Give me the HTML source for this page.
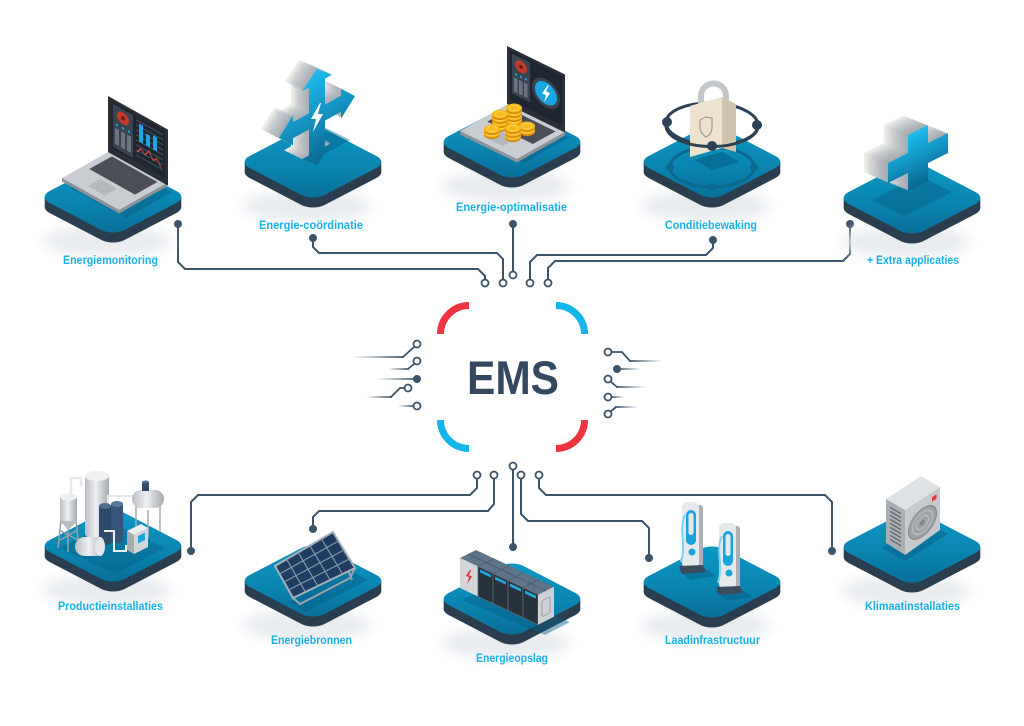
<!DOCTYPE html>
<html><head><meta charset="utf-8"><style>
html,body{margin:0;padding:0;background:#fff;}
svg{display:block;}
</style></head><body>
<svg width="1024" height="726" viewBox="0 0 1024 726" xmlns="http://www.w3.org/2000/svg">
<defs>
<filter id="bl" x="-50%" y="-50%" width="200%" height="200%"><feGaussianBlur stdDeviation="6"/></filter>
<linearGradient id="pg" x1="0" y1="0" x2="1" y2="1"><stop offset="0" stop-color="#0d99c5"/><stop offset="0.55" stop-color="#0a86b1"/><stop offset="1" stop-color="#076e96"/></linearGradient>
<linearGradient id="cyl" x1="0" y1="0" x2="1" y2="0"><stop offset="0" stop-color="#b9bec3"/><stop offset="0.45" stop-color="#eef0f1"/><stop offset="1" stop-color="#a3a9af"/></linearGradient>
<linearGradient id="blu" x1="0" y1="0" x2="0" y2="1"><stop offset="0" stop-color="#1dbcf0"/><stop offset="1" stop-color="#0a6890"/></linearGradient>
<linearGradient id="fl" x1="0" y1="0" x2="1" y2="0"><stop offset="0" stop-color="#3d5468" stop-opacity="0"/><stop offset="1" stop-color="#3d5468"/></linearGradient>
<linearGradient id="fr" x1="0" y1="0" x2="1" y2="0"><stop offset="0" stop-color="#3d5468"/><stop offset="1" stop-color="#3d5468" stop-opacity="0"/></linearGradient>
<g id="plat">
<ellipse cx="-6" cy="44" rx="64" ry="16" fill="#e8ecef" filter="url(#bl)"/>
<rect x="-53" y="-53" width="106" height="106" rx="16" transform="translate(0,10) scale(1,0.52) rotate(45)" fill="#2b3e50"/>
<rect x="-68.3" y="0" width="136.6" height="10" fill="#2b3e50"/>
<rect x="-53" y="-53" width="106" height="106" rx="16" transform="scale(1,0.52) rotate(45)" fill="url(#pg)"/>
</g>
<g id="coin"><ellipse cx="0" cy="1.6" rx="8" ry="4.5" fill="#d4870a"/><ellipse cx="0" cy="0" rx="8" ry="4.5" fill="#f8bb1c"/><ellipse cx="0" cy="0" rx="5" ry="2.7" fill="none" stroke="#fdd560" stroke-width="0.8"/></g>
<polygon id="arw" points="0,-48 15,-34 8,-34 8,-8 24,-8 24,-15 38,0 24,15 24,8 8,8 8,34 15,34 0,48 -15,34 -8,34 -8,8 -24,8 -24,15 -38,0 -24,-15 -24,-8 -8,-8 -8,-34 -15,-34"/>
<polygon id="pls" points="-10,-28 10,-28 10,-10 30,-10 30,10 10,10 10,28 -10,28 -10,10 -30,10 -30,-10 -10,-10"/>
</defs>

<!-- ===== connectors ===== -->
<g fill="none" stroke="#3d5468" stroke-width="2">
<path d="M178,224 V262 L185,269 H478 L485,276 V279.5"/>
<path d="M313,238 V247 L319,253 H497 L503,259 V279.5"/>
<path d="M513,224 V271.5"/>
<path d="M530,279.5 V262 L537,255 H706 L713,248 V240"/>
<path d="M548,279.5 V268 L555,261 H843 L850,254 V224"/>
<path d="M477,478.5 V488 L470,495 H198 L191,502 V551"/>
<path d="M494,478.5 V504 L488,511 H319 L313,517 V529"/>
<path d="M513,469.5 V547"/>
<path d="M521,478.5 V514 L528,521 H642 L649,528 V558"/>
<path d="M539,478.5 V488 L546,495 H825 L832,502 V551"/>
</g>
<g fill="#3d5468">
<circle cx="178" cy="224" r="4"/><circle cx="313" cy="238" r="4"/><circle cx="513" cy="224" r="4"/><circle cx="713" cy="240" r="4"/><circle cx="850" cy="224" r="4"/>
<circle cx="191" cy="551" r="4"/><circle cx="313" cy="529" r="4"/><circle cx="513" cy="547" r="4"/><circle cx="649" cy="558" r="4"/><circle cx="832" cy="551" r="4"/>
</g>
<g fill="#fff" stroke="#3d5468" stroke-width="1.8">
<circle cx="485" cy="283" r="3.5"/><circle cx="503" cy="283" r="3.5"/><circle cx="513" cy="275" r="3.5"/><circle cx="530" cy="283" r="3.5"/><circle cx="548" cy="283" r="3.5"/>
<circle cx="477" cy="475" r="3.5"/><circle cx="494" cy="475" r="3.5"/><circle cx="513" cy="466" r="3.5"/><circle cx="521" cy="475" r="3.5"/><circle cx="539" cy="475" r="3.5"/>
</g>

<!-- ===== EMS ===== -->
<g fill="none" stroke-width="7">
<path d="M440.5,334 A28.5,28.5 0 0 1 469,305.5" stroke="#ee3440"/>
<path d="M556,305.5 A28.5,28.5 0 0 1 584.5,334" stroke="#13b5ea"/>
<path d="M440.5,420 A28.5,28.5 0 0 0 469,448.5" stroke="#13b5ea"/>
<path d="M584.5,420 A28.5,28.5 0 0 1 556,448.5" stroke="#ee3440"/>
</g>
<text x="467" y="394" font-family="Liberation Sans, Arial, sans-serif" font-weight="bold" font-size="47" fill="#34495f" textLength="92" lengthAdjust="spacingAndGlyphs">EMS</text>

<rect x="352" y="356.1" width="52" height="1.8" fill="url(#fl)"/>
<rect x="388" y="368.1" width="21" height="1.8" fill="url(#fl)"/>
<rect x="376" y="378.1" width="41" height="1.8" fill="url(#fl)"/>
<rect x="366" y="396.1" width="26" height="1.8" fill="url(#fl)"/>
<rect x="398" y="405.1" width="16" height="1.8" fill="url(#fl)"/>
<g fill="none" stroke="#3d5468" stroke-width="1.8">
<path d="M414.5,346.5 L403,357"/>
<path d="M414.5,363.5 L408,369"/>
<path d="M404.5,388 H400 L391,397"/>
</g>
<circle cx="417" cy="379" r="4" fill="#3d5468"/>
<g fill="#fff" stroke="#3d5468" stroke-width="1.8">
<circle cx="417" cy="344" r="3.5"/><circle cx="417" cy="361" r="3.5"/><circle cx="408" cy="388" r="3.5"/><circle cx="417" cy="406" r="3.5"/>
</g>
<rect x="629" y="360.1" width="34" height="1.8" fill="url(#fr)"/>
<rect x="617" y="368.1" width="24" height="1.8" fill="url(#fr)"/>
<rect x="616" y="386.1" width="30" height="1.8" fill="url(#fr)"/>
<rect x="611" y="396.1" width="13" height="1.8" fill="url(#fr)"/>
<rect x="615" y="406.1" width="23" height="1.8" fill="url(#fr)"/>
<g fill="none" stroke="#3d5468" stroke-width="1.8">
<path d="M611.5,352 H622 L630,361"/>
<path d="M610.5,381.5 L617,387"/>
<path d="M610.5,411.5 L616,407"/>
</g>
<circle cx="617" cy="369" r="4" fill="#3d5468"/>
<g fill="#fff" stroke="#3d5468" stroke-width="1.8">
<circle cx="608" cy="352" r="3.5"/><circle cx="608" cy="379" r="3.5"/><circle cx="608" cy="397" r="3.5"/><circle cx="608" cy="414" r="3.5"/>
</g>

<!-- ===== platforms ===== -->
<use href="#plat" x="113" y="197"/>
<use href="#plat" x="313" y="162"/>
<use href="#plat" x="512" y="142"/>
<use href="#plat" x="712" y="162"/>
<use href="#plat" x="912" y="198"/>
<use href="#plat" x="113" y="546"/>
<use href="#plat" x="313" y="581"/>
<use href="#plat" x="512" y="599"/>
<use href="#plat" x="712" y="582"/>
<use href="#plat" x="912" y="547"/>

<!-- ===== P1 laptop ===== -->
<polygon points="70,188 116,162 172,192 126,218" fill="#055f85" opacity="0.5"/>
<polygon points="62,178 119,210 167,183 167,186.5 119,213.5 62,181.5" fill="#8d9298"/>
<polygon points="62,178 110,151 167,183 119,210" fill="#c9ccd0"/>
<polygon points="89.3,169 111.9,156.4 157.5,182 134.9,194.6" fill="#4a4f57"/>
<polygon points="87.8,186 100.2,178.9 117.2,188.5 104.8,195.6" fill="#b5b9bd"/>
<g transform="translate(108,96) skewY(29.3)">
<rect x="0" y="0" width="60" height="56" fill="#2a2e35"/>
<rect x="3" y="3" width="54" height="47" fill="#1d2631"/>
<rect x="5" y="5" width="20" height="43" fill="#3a4350"/>
<circle cx="15" cy="14" r="6" fill="#c0392b"/><circle cx="15" cy="14" r="2" fill="#6e1a14"/>
<circle cx="9" cy="24" r="1.2" fill="#1aa6e4"/><circle cx="15" cy="24" r="1.2" fill="#1aa6e4"/><circle cx="21" cy="24" r="1.2" fill="#1aa6e4"/>
<rect x="7" y="28" width="4" height="16" fill="#6b7480"/><rect x="13" y="28" width="4" height="16" fill="#6b7480"/><rect x="19" y="28" width="4" height="16" fill="#6b7480"/>
<g stroke="#5c6672" stroke-width="0.7"><line x1="28" y1="8" x2="55" y2="8"/><line x1="28" y1="13" x2="55" y2="13"/><line x1="28" y1="18" x2="55" y2="18"/><line x1="28" y1="23" x2="55" y2="23"/><line x1="28" y1="28" x2="55" y2="28"/><line x1="28" y1="33" x2="55" y2="33"/><line x1="28" y1="38" x2="55" y2="38"/><line x1="28" y1="43" x2="55" y2="43"/></g>
<rect x="31" y="10" width="4" height="18" fill="#1aa6e4"/><rect x="38" y="16" width="4" height="12" fill="#1aa6e4"/><rect x="45" y="14" width="4" height="14" fill="#1aa6e4"/>
<polyline points="29,40 33,34 37,38 41,32 45,39 49,35 53,42" fill="none" stroke="#e74c3c" stroke-width="1"/>
</g>

<!-- ===== P2 arrows ===== -->
<polygon points="286,150 326,128 350,140 310,162" fill="#055f85" opacity="0.45"/>
<use href="#arw" transform="matrix(1,-0.55,0,1,299,108)" fill="#efede7"/>
<use href="#arw" transform="matrix(1,-0.55,0,1,300.5,108.75)" fill="#e6e6e2"/>
<use href="#arw" transform="matrix(1,-0.55,0,1,302,109.5)" fill="#dcdddc"/>
<use href="#arw" transform="matrix(1,-0.55,0,1,303.5,110.25)" fill="#d3d5d6"/>
<use href="#arw" transform="matrix(1,-0.55,0,1,305,111)" fill="#cccfd1"/>
<use href="#arw" transform="matrix(1,-0.55,0,1,306.5,111.75)" fill="#c6cacd"/>
<use href="#arw" transform="matrix(1,-0.55,0,1,308,112.5)" fill="#c0c4c8"/>
<use href="#arw" transform="matrix(1,-0.55,0,1,309.5,113.25)" fill="#bbc0c4"/>
<use href="#arw" transform="matrix(1,-0.55,0,1,311,114)" fill="#b6bbc0"/>
<use href="#arw" transform="matrix(1,-0.55,0,1,312.5,114.75)" fill="#b1b7bc"/>
<use href="#arw" transform="matrix(1,-0.55,0,1,314,115.5)" fill="#adb3b8"/>
<use href="#arw" transform="matrix(1,-0.55,0,1,315.5,116.25)" fill="#a9afb5"/>
<use href="#arw" transform="matrix(1,-0.55,0,1,317,117)" fill="url(#blu)"/>
<polygon points="320,103 311,119 316,119 313,132 323,114 318,114 321,103" fill="#fff"/>

<!-- ===== P3 laptop + coins ===== -->
<polygon points="468,134 514,108 570,137 524,163" fill="#055f85" opacity="0.5"/>
<polygon points="460,131 517,159 565,132 565,135.5 517,162.5 460,134.5" fill="#8d9298"/>
<polygon points="460,131 508,104 565,132 517,159" fill="#c9ccd0"/>
<polygon points="487.3,121.6 509.9,109 555.5,131.4 532.9,144" fill="#4a4f57"/>
<polygon points="485.8,137.6 498.2,130.5 515.2,138.9 502.8,146" fill="#b5b9bd"/>
<g transform="translate(507,46) skewY(26.2)">
<rect x="0" y="0" width="58" height="58" fill="#2a2e35"/>
<rect x="3" y="3" width="52" height="49" fill="#1d2631"/>
<rect x="5" y="5" width="18" height="40" fill="#3a4350"/>
<circle cx="14" cy="14" r="6" fill="#c0392b"/><circle cx="14" cy="14" r="2" fill="#6e1a14"/>
<circle cx="9" cy="24" r="1.2" fill="#1aa6e4"/><circle cx="14" cy="24" r="1.2" fill="#1aa6e4"/><circle cx="19" cy="24" r="1.2" fill="#1aa6e4"/>
<rect x="7" y="28" width="3.5" height="14" fill="#6b7480"/><rect x="12" y="28" width="3.5" height="14" fill="#6b7480"/><rect x="17" y="28" width="3.5" height="14" fill="#6b7480"/>
<circle cx="39" cy="28" r="14" fill="#3a4350"/>
<circle cx="39" cy="28" r="11" fill="#1aa6e4"/>
<polygon points="41,19 35,30 39,30 37,38 43,26 39,26 42,19" fill="#fff"/>
</g>
<use href="#coin" x="514" y="124"/><use href="#coin" x="514" y="120"/><use href="#coin" x="514" y="116"/><use href="#coin" x="514" y="112"/><use href="#coin" x="514" y="108"/>
<use href="#coin" x="500" y="126"/><use href="#coin" x="500" y="122"/><use href="#coin" x="500" y="118"/><use href="#coin" x="500" y="114"/>
<use href="#coin" x="527" y="130"/><use href="#coin" x="527" y="126"/>
<use href="#coin" x="492" y="133"/><use href="#coin" x="492" y="129"/>
<use href="#coin" x="513" y="136"/><use href="#coin" x="513" y="132"/><use href="#coin" x="513" y="128"/>

<!-- ===== P4 lock ===== -->
<ellipse cx="712" cy="167" rx="42" ry="20" fill="none" stroke="#0a6a8f" stroke-width="3"/>
<g fill="#0a6a8f"><circle cx="670" cy="167" r="4"/><circle cx="754" cy="167" r="4"/><circle cx="712" cy="187" r="4"/></g>
<polygon points="694,160 722,152 740,162 712,170" fill="#055f85" opacity="0.6"/>
<ellipse cx="712" cy="124" rx="46" ry="21" transform="rotate(2 712 124)" fill="none" stroke="#2c4154" stroke-width="3"/>
<path d="M701,104 V96 A12.5,12.5 0 0 1 726,96 V101" fill="none" stroke="#c4c7ca" stroke-width="6"/>
<polygon points="690,106 722,97 736,104 704,113" fill="#f6f0e4"/>
<polygon points="690,106 722,97 722,148 690,157" fill="#ece2cf"/>
<polygon points="722,97 736,104 736,152 722,148" fill="#cfc3ad"/>
<path d="M700,120 L706,117 L712,118 V127 Q712,134 706,137 Q700,133 700,127 Z" fill="none" stroke="#a99d87" stroke-width="1.2"/>
<path d="M666,124 A46,21 0 0 0 758,127" fill="none" stroke="#2c4154" stroke-width="3"/>
<g fill="#2c4154"><circle cx="667" cy="122" r="5"/><circle cx="757" cy="125" r="5"/><circle cx="712" cy="146" r="5"/></g>

<!-- ===== P5 plus ===== -->
<polygon points="872,200 920,176 952,192 904,216" fill="#055f85" opacity="0.45"/>
<use href="#pls" transform="matrix(1,-0.5,0,1,894,148)" fill="#efede7"/>
<use href="#pls" transform="matrix(1,-0.5,0,1,895.5,148.6)" fill="#e8e8e4"/>
<use href="#pls" transform="matrix(1,-0.5,0,1,897,149.25)" fill="#e1e2e0"/>
<use href="#pls" transform="matrix(1,-0.5,0,1,898.5,149.9)" fill="#dadcdc"/>
<use href="#pls" transform="matrix(1,-0.5,0,1,900,150.5)" fill="#d4d7d8"/>
<use href="#pls" transform="matrix(1,-0.5,0,1,901.5,151.1)" fill="#cfd2d4"/>
<use href="#pls" transform="matrix(1,-0.5,0,1,903,151.75)" fill="#cacdd0"/>
<use href="#pls" transform="matrix(1,-0.5,0,1,904.5,152.4)" fill="#c5c9cc"/>
<use href="#pls" transform="matrix(1,-0.5,0,1,906,153)" fill="#c0c4c8"/>
<use href="#pls" transform="matrix(1,-0.5,0,1,907.5,153.6)" fill="#bcc0c4"/>
<use href="#pls" transform="matrix(1,-0.5,0,1,909,154.25)" fill="#b8bcc1"/>
<use href="#pls" transform="matrix(1,-0.5,0,1,910.5,154.9)" fill="#b4b9be"/>
<use href="#pls" transform="matrix(1,-0.5,0,1,912,155.5)" fill="#b0b5ba"/>
<use href="#pls" transform="matrix(1,-0.5,0,1,913.5,156.1)" fill="#adb2b7"/>
<use href="#pls" transform="matrix(1,-0.5,0,1,915,156.75)" fill="#aaafb4"/>
<use href="#pls" transform="matrix(1,-0.5,0,1,916.5,157.4)" fill="#a7adb2"/>
<use href="#pls" transform="matrix(1,-0.5,0,1,918,158)" fill="url(#blu)"/>

<!-- ===== P6 Productie ===== -->
<polygon points="60,548 110,522 165,548 115,574" fill="#055f85" opacity="0.4"/>
<g stroke="#9aa1a8" stroke-width="1.5" fill="none">
<line x1="61" y1="520" x2="58" y2="548"/><line x1="76" y1="520" x2="79" y2="548"/><line x1="68" y1="524" x2="68" y2="552"/>
<path d="M59,530 L78,540 M60,540 L78,530"/>
</g>
<rect x="60" y="497" width="17" height="24" fill="url(#cyl)"/>
<ellipse cx="68.5" cy="497" rx="8.5" ry="3.5" fill="#eef0f1"/>
<path d="M60,521 L68.5,530 L77,521 Z" fill="#b8bdc2"/>
<path d="M71,497 V478 H81 V486" stroke="#e6e9eb" stroke-width="2.5" fill="none"/>
<rect x="85" y="476" width="24" height="58" fill="url(#cyl)"/>
<ellipse cx="97" cy="534" rx="12" ry="5" fill="url(#cyl)"/>
<ellipse cx="97" cy="476" rx="12" ry="5" fill="#eef0f1"/>
<path d="M108,505 V496 H136 V502" stroke="#e6e9eb" stroke-width="2" fill="none"/>
<rect x="99" y="506" width="12" height="36" fill="#2e4a6a"/><ellipse cx="105" cy="542" rx="6" ry="3" fill="#2e4a6a"/><ellipse cx="105" cy="506" rx="6" ry="3" fill="#4f6f92"/>
<rect x="111" y="504" width="12" height="36" fill="#35557a"/><ellipse cx="117" cy="540" rx="6" ry="3" fill="#35557a"/><ellipse cx="117" cy="504" rx="6" ry="3" fill="#56779a"/>
<g stroke="#a4abb2" stroke-width="1.5"><line x1="136" y1="506" x2="136" y2="540"/><line x1="160" y1="506" x2="160" y2="532"/><line x1="148" y1="510" x2="148" y2="538"/></g>
<rect x="132" y="490" width="32" height="18" rx="9" fill="url(#cyl)"/>
<rect x="142" y="482" width="7" height="9" fill="#2e4a6a"/><ellipse cx="145.5" cy="482" rx="3.5" ry="1.5" fill="#4f6f92"/>
<rect x="75" y="537" width="30" height="19" rx="9.5" fill="url(#cyl)"/>
<ellipse cx="100" cy="546.5" rx="5" ry="9.5" fill="#e3e6e8"/>
<path d="M104,531 h10 v20 h12 v-6" stroke="#eef0f1" stroke-width="2" fill="none"/>
<polygon points="127,531 141,524 148,528 134,535" fill="#eceeef"/>
<polygon points="134,535 148,528 148,547 134,554" fill="#d3d6d9"/>
<polygon points="127,531 134,535 134,554 127,550" fill="#a9aeb3"/>
<polygon points="138,536 145,532.5 145,540 138,543.5" fill="#1aa3dc"/>

<!-- ===== P7 solar ===== -->
<polygon points="288,602 350,570 368,580 306,612" fill="#055f85" opacity="0.45"/>
<g stroke="#9aa2aa" stroke-width="2" fill="none"><path d="M293,598 L300,604 L350,578 L355,568"/><path d="M340,550 L352,580"/></g>
<polygon points="275,566 333,532 355,568 293,598" fill="#1f3d62" stroke="#a9b1b9" stroke-width="2"/>
<g stroke="#8596a8" stroke-width="1.2">
<line x1="286.6" y1="559.2" x2="305.4" y2="592"/><line x1="298.2" y1="552.4" x2="317.8" y2="586"/><line x1="309.8" y1="545.6" x2="330.2" y2="580"/><line x1="321.4" y1="538.8" x2="342.6" y2="574"/>
<line x1="279.5" y1="574" x2="338.5" y2="541"/><line x1="284" y1="582" x2="344" y2="550"/><line x1="288.5" y1="590" x2="349.5" y2="559"/>
</g>

<!-- ===== P8 battery ===== -->
<polygon points="462,600 545,635 570,622 490,588" fill="#055f85" opacity="0.45"/>
<polygon points="460,558 538,594.7 554,586.7 476,550" fill="#5d7489"/>
<line x1="468" y1="554" x2="546" y2="590.7" stroke="#4a5f73" stroke-width="1"/>
<g stroke="#4a5f73" stroke-width="0.8"><line x1="478" y1="566.5" x2="494" y2="558.5"/><line x1="493" y1="573.5" x2="509" y2="565.5"/><line x1="508" y1="580.5" x2="524" y2="572.5"/><line x1="523" y1="587.5" x2="539" y2="579.5"/></g>
<g transform="matrix(1,0.47,0,1,460,558)">
<rect x="0" y="0" width="18" height="30" fill="#d3d6d9"/>
<polygon points="10,7 6,15 9,15 7,23 12,13 9,13 11,7" fill="#e53935"/>
<rect x="18" y="0" width="15" height="30" fill="#28323d" stroke="#5b6875" stroke-width="0.8"/>
<rect x="33" y="0" width="15" height="30" fill="#28323d" stroke="#5b6875" stroke-width="0.8"/>
<rect x="48" y="0" width="15" height="30" fill="#28323d" stroke="#5b6875" stroke-width="0.8"/>
<rect x="63" y="0" width="15" height="30" fill="#28323d" stroke="#5b6875" stroke-width="0.8"/>
<rect x="20" y="2" width="11" height="3" fill="#1fa8e0"/><rect x="35" y="2" width="11" height="3" fill="#1fa8e0"/><rect x="50" y="2" width="11" height="3" fill="#1fa8e0"/><rect x="65" y="2" width="11" height="3" fill="#1fa8e0"/>
</g>
<g transform="matrix(1,-0.5,0,1,538,594.7)">
<rect x="0" y="0" width="16" height="30" fill="#cdd1d5"/>
<rect x="4" y="8" width="8" height="16" rx="1.5" fill="none" stroke="#9aa0a6" stroke-width="1"/>
</g>

<!-- ===== P9 chargers ===== -->
<g>
<polygon points="678,570 704,568 716,576 690,580" fill="#055f85" opacity="0.5"/>
<rect x="696" y="505" width="7" height="63" rx="3" fill="#aab0b6"/>
<rect x="682" y="502" width="17" height="66" rx="5" fill="#e6e9eb"/>
<rect x="686" y="510" width="10" height="35" rx="5" fill="#1aa3dc"/>
<rect x="688.5" y="513" width="5" height="22" rx="2.5" fill="#e6e9eb"/>
<circle cx="692" cy="552" r="3.5" fill="#1aa3dc"/>
<path d="M685,515 C678,530 687,542 681,562" stroke="#7fd3f2" stroke-width="2" fill="none"/>
<polygon points="679,566 703,565 706,572 682,574" fill="#3b4b5b"/>
</g>
<g transform="translate(37,21)">
<polygon points="678,570 704,568 716,576 690,580" fill="#055f85" opacity="0.5"/>
<rect x="696" y="505" width="7" height="63" rx="3" fill="#aab0b6"/>
<rect x="682" y="502" width="17" height="66" rx="5" fill="#e6e9eb"/>
<rect x="686" y="510" width="10" height="35" rx="5" fill="#1aa3dc"/>
<rect x="688.5" y="513" width="5" height="22" rx="2.5" fill="#e6e9eb"/>
<circle cx="692" cy="552" r="3.5" fill="#1aa3dc"/>
<path d="M685,515 C678,530 687,542 681,562" stroke="#7fd3f2" stroke-width="2" fill="none"/>
<polygon points="679,566 703,565 706,572 682,574" fill="#3b4b5b"/>
</g>

<!-- ===== P10 AC ===== -->
<polygon points="882,548 905,561 948,534 925,522" fill="#055f85" opacity="0.5"/>
<polygon points="886,499 921,476 940,487 905,510" fill="#dfe2e4"/>
<polygon points="886,499 905,510 905,555 886,543" fill="#a9aeb3"/>
<g transform="matrix(1,0.58,0,1,886,499)" stroke="#5d6369" stroke-width="1.4">
<line x1="4" y1="6" x2="15" y2="6"/><line x1="4" y1="10" x2="15" y2="10"/><line x1="4" y1="14" x2="15" y2="14"/><line x1="4" y1="18" x2="15" y2="18"/><line x1="4" y1="22" x2="15" y2="22"/><line x1="4" y1="26" x2="15" y2="26"/><line x1="4" y1="30" x2="15" y2="30"/><line x1="4" y1="34" x2="15" y2="34"/><line x1="4" y1="38" x2="15" y2="38"/>
</g>
<polygon points="905,510 940,487 940,530 905,555" fill="#c6cacd"/>
<g transform="matrix(1,-0.657,0,1,905,510)">
<circle cx="17.5" cy="24" r="14" fill="#9ea3a8" stroke="#80858a" stroke-width="1"/>
<circle cx="17.5" cy="24" r="10" fill="none" stroke="#c0c4c8" stroke-width="1"/>
<circle cx="17.5" cy="24" r="6" fill="none" stroke="#c0c4c8" stroke-width="1"/>
<circle cx="17.5" cy="24" r="2.5" fill="#80858a"/>
<rect x="27" y="5" width="4.5" height="4.5" fill="#e53935"/>
</g>

<!-- ===== labels ===== -->
<g font-family="Liberation Sans, Arial, sans-serif" font-weight="bold" font-size="11.5" fill="#1ab2ea">
<text x="63" y="264" textLength="95" lengthAdjust="spacingAndGlyphs">Energiemonitoring</text>
<text x="259" y="229" textLength="104" lengthAdjust="spacingAndGlyphs">Energie-coördinatie</text>
<text x="456" y="211" textLength="111" lengthAdjust="spacingAndGlyphs">Energie-optimalisatie</text>
<text x="665" y="229" textLength="92" lengthAdjust="spacingAndGlyphs">Conditiebewaking</text>
<text x="867" y="264" textLength="92" lengthAdjust="spacingAndGlyphs">+ Extra applicaties</text>
<text x="58" y="610" textLength="105" lengthAdjust="spacingAndGlyphs">Productieinstallaties</text>
<text x="271" y="644" textLength="81" lengthAdjust="spacingAndGlyphs">Energiebronnen</text>
<text x="476" y="662" textLength="72" lengthAdjust="spacingAndGlyphs">Energieopslag</text>
<text x="665" y="644" textLength="95" lengthAdjust="spacingAndGlyphs">Laadinfrastructuur</text>
<text x="865" y="610" textLength="95" lengthAdjust="spacingAndGlyphs">Klimaatinstallaties</text>
</g>
</svg>
</body></html>
